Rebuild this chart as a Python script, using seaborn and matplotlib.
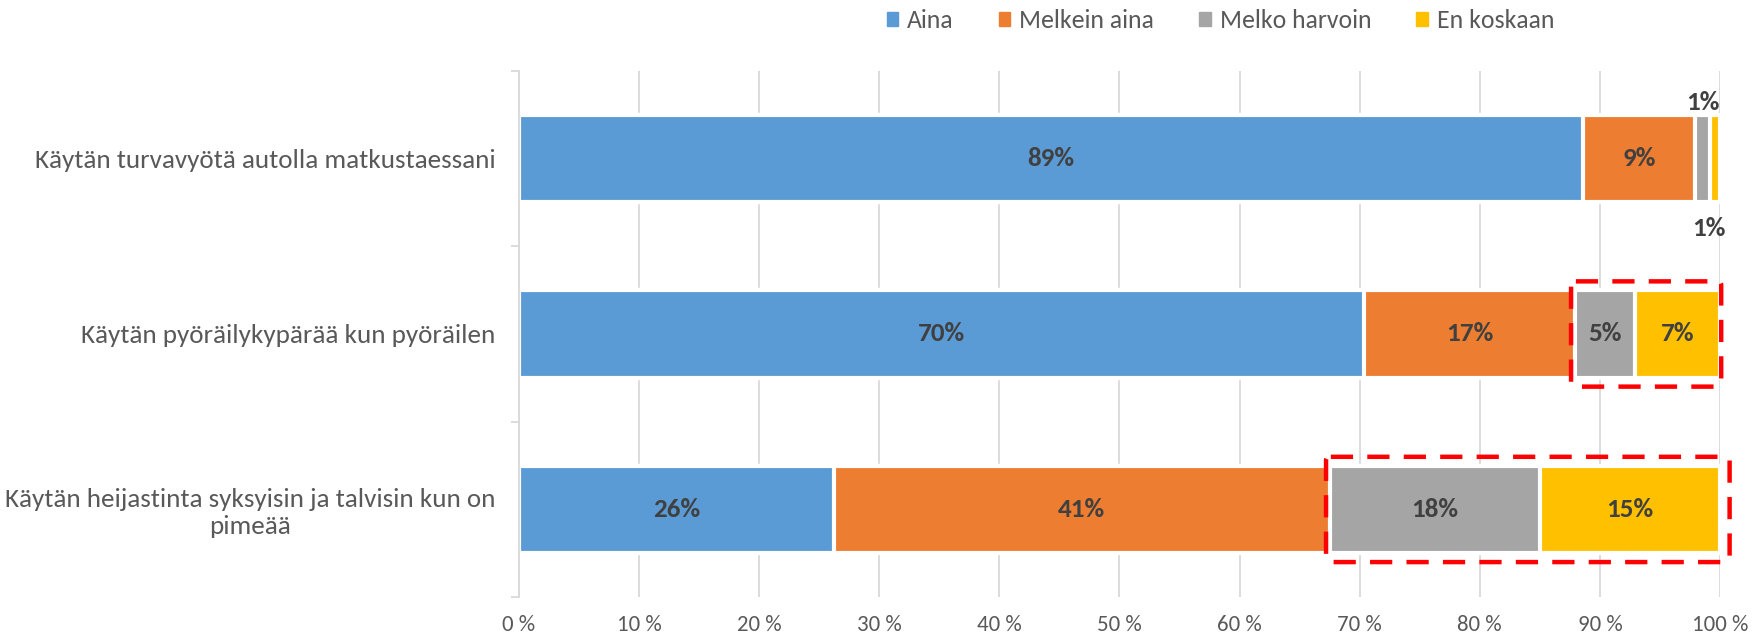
import numpy as np
import pandas as pd
import matplotlib
matplotlib.use('Agg')
import matplotlib.pyplot as plt
import matplotlib.patches as mpatches
import seaborn as sns

# data (share of answers, %)
questions = [
    'Käytän turvavyötä autolla matkustaessani',
    'Käytän pyöräilykypärää kun pyöräilen',
    'Käytän heijastinta syksyisin ja talvisin kun on\npimeää',
]
series = ['Aina', 'Melkein aina', 'Melko harvoin', 'En koskaan']
aina = [88.6, 70.4, 26.2]
melkein_aina = [9.3, 17.5, 41.3]
melko_harvoin = [1.3, 5.0, 17.5]
en_koskaan = [0.8, 7.1, 15.0]
labels = [
    ['89%', '9%', '1%', '1%'],
    ['70%', '17%', '5%', '7%'],
    ['26%', '41%', '18%', '15%'],
]
x_ticks = list(range(0, 101, 10))
highlight_rows = [1, 2]   # rows with red dashed box around the two last answers
box_pad_right = [0.1, 0.8]

colors = ['#5B9BD5', '#ED7D31', '#A5A5A5', '#FFC000']
text_col = '#595959'
label_col = '#404040'
grid_col = '#D9D9D9'

sns.set_theme(style='white')
plt.rcParams['font.family'] = ['Carlito', 'Liberation Sans Narrow', 'Liberation Sans', 'DejaVu Sans']

vals = np.array([aina, melkein_aina, melko_harvoin, en_koskaan])  # series x question
cum = vals.cumsum(axis=0)

fig = plt.figure(figsize=(17.65, 6.38), dpi=100)
ax = fig.add_axes([0.294, 0.064, 0.6805, 0.825])

# stacked bars: draw cumulative totals from the last series back to the first
for i in range(len(series) - 1, -1, -1):
    df = pd.DataFrame({'q': questions, 'v': cum[i]})
    sns.barplot(data=df, x='v', y='q', orient='h', color=colors[i], width=0.5,
                edgecolor='white', linewidth=3, saturation=1, ax=ax, zorder=2)

# data labels
for r in range(len(questions)):
    for i in range(len(series)):
        start = cum[i, r] - vals[i, r]
        xc = start + vals[i, r] / 2
        y = r
        if r == 0 and i == 2:
            y = r - 0.32
        elif r == 0 and i == 3:
            y = r + 0.40
            xc = xc - 0.5
        ax.text(xc, y, labels[r][i], ha='center', va='center', fontsize=19.5,
                fontweight='bold', color=label_col, zorder=4)

# red dashed highlight boxes
for r, pr in zip(highlight_rows, box_pad_right):
    x0 = cum[1, r] - 0.3
    x1 = cum[3, r] + pr
    rect = mpatches.FancyBboxPatch((x0, r - 0.3), x1 - x0, 0.6,
                                   boxstyle='round,pad=0,rounding_size=0.4',
                                   fill=False, edgecolor='#FF0000', linewidth=3.2,
                                   linestyle=(0, (5, 3.2)), clip_on=False, zorder=5,
                                   mutation_aspect=0.05)
    ax.add_patch(rect)

ax.set_xlim(0, 100)
ax.set_ylim(len(questions) - 0.5, -0.5)
ax.set_xticks(x_ticks)
ax.set_xticklabels([f'{t} %' for t in x_ticks])
ax.set_xlabel('')
ax.set_ylabel('')
ax.grid(axis='x', color=grid_col, linewidth=1.3)
ax.grid(axis='y', visible=False)
ax.set_axisbelow(True)

for s in ['top', 'right', 'bottom']:
    ax.spines[s].set_visible(False)
ax.spines['left'].set_color(grid_col)
ax.spines['left'].set_linewidth(1.3)

ax.set_yticks(np.arange(-0.5, len(questions)), minor=True)
ax.tick_params(axis='y', which='major', length=0, pad=17, labelsize=19.5, labelcolor=text_col)
ax.tick_params(axis='y', which='minor', length=6, width=1.3, color=grid_col, left=True)
ax.tick_params(axis='x', length=0, pad=13, labelsize=16.5, labelcolor=text_col)
for t in ax.get_yticklabels():
    t.set_multialignment('center')

handles = [mpatches.Patch(color=c, label=s) for c, s in zip(colors, series)]
fig.legend(handles=handles, loc='center', bbox_to_anchor=(0.6915, 0.968), ncol=4,
           frameon=False, fontsize=18.5, handlelength=0.45, handleheight=0.45,
           handletextpad=0.35, columnspacing=1.75, labelcolor=text_col)

fig.savefig('out.png', dpi=100)
